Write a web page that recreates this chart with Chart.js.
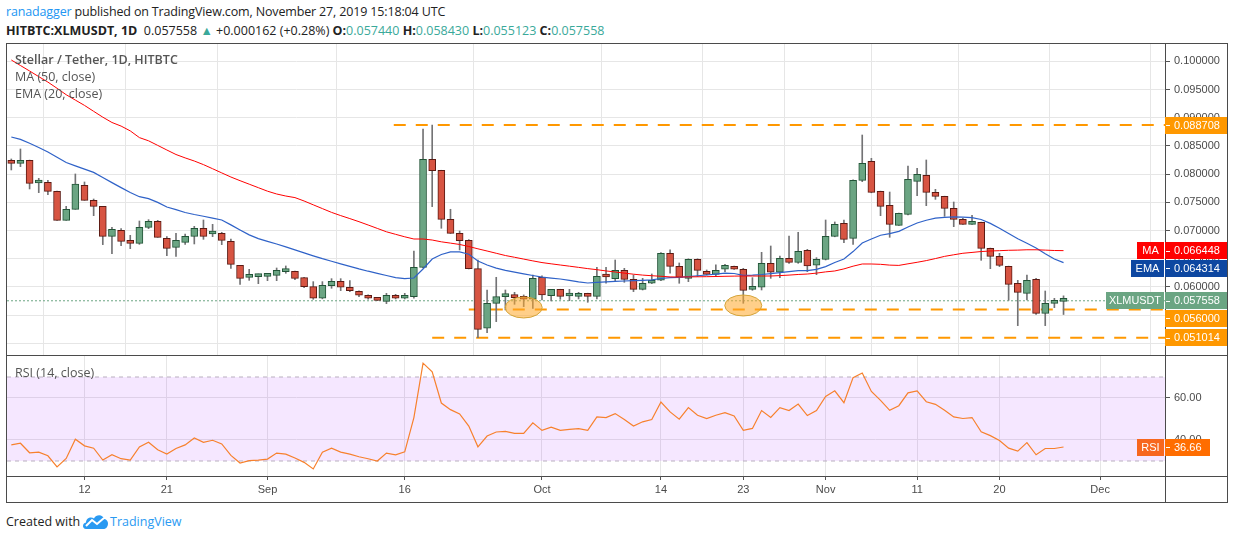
<!DOCTYPE html>
<html lang="en">
<head>
<meta charset="UTF-8">
<title>HITBTC:XLMUSDT, 1D</title>
<script src="https://cdn.jsdelivr.net/npm/chart.js"></script>
<style>
    body { margin: 0; width: 1234px; height: 540px; background: #fff; position: relative; overflow: hidden;
           font-family: 'Open Sans', 'Noto Sans', sans-serif; color: #222; }
    .abs { position: absolute; white-space: nowrap; }
    .line { position: absolute; background: #4b4b4b; }
    .teal { color: #3aa99a; }
    .lbl { font-size: 12.5px; color: #555; line-height: 16px; }
    canvas { position: absolute; }
</style>
</head>
<body>
    <!-- header -->
    <div class="abs" style="left:6px;top:4px;font-size:12.5px;line-height:16px;letter-spacing:-0.15px;"><span style="color:#2196f3">ranadagger</span> published on TradingView.com, November 27, 2019 15:18:04 UTC</div>
    <div class="abs" style="left:6px;top:23px;font-size:12.5px;line-height:16px;"><b>HITBTC:XLMUSDT, 1D</b>&nbsp; 0.057558 <span class="teal">&#9650;</span> +0.000162 (+0.28%) <b>O:</b><span class="teal">0.057440</span> <b>H:</b><span class="teal">0.058430</span> <b>L:</b><span class="teal">0.055123</span> <b>C:</b><span class="teal">0.057558</span></div>

    <!-- frame -->
    <div class="line" style="left:6px;top:43px;width:1222px;height:1px;"></div>
    <div class="line" style="left:6px;top:502px;width:1222px;height:1px;"></div>
    <div class="line" style="left:6px;top:43px;width:1px;height:460px;"></div>
    <div class="line" style="left:1227px;top:43px;width:1px;height:460px;"></div>
    <div class="line" style="left:6px;top:355px;width:1222px;height:1px;"></div>
    <div class="line" style="left:6px;top:476px;width:1222px;height:1px;"></div>
    <div class="line" style="left:1165px;top:43px;width:1px;height:460px;"></div>

    <canvas id="priceChart" width="1220" height="311" style="left:7px;top:44px;width:1220px;height:311px;"></canvas>
    <canvas id="rsiChart" width="1220" height="146" style="left:7px;top:356px;width:1220px;height:146px;"></canvas>

    <!-- pane legends -->
    <div class="abs lbl" style="left:15px;top:52px;font-weight:600;">Stellar / Tether, 1D, HITBTC</div>
    <div class="abs lbl" style="left:15px;top:69px;">MA (50, close)</div>
    <div class="abs lbl" style="left:15px;top:86px;">EMA (20, close)</div>
    <div class="abs lbl" style="left:15px;top:365px;">RSI (14, close)</div>

    <!-- footer -->
    <div class="abs" style="left:6px;top:514px;font-size:12.5px;line-height:16px;">Created with</div>
    <svg class="abs" style="left:82px;top:513px" width="27" height="17" viewBox="0 0 27 17">
        <path d="M4 16 C0 16 0 10 4 9.5 C4 5 9 3 12 5.5 C14 1 21 1 22 6 C26 6.5 27 11 25 14 C24 15.5 23 16 21 16 Z" fill="#2a9af2"/>
        <polyline points="4,13 10,7 15,11 22,5" fill="none" stroke="#fff" stroke-width="2"/>
    </svg>
    <div class="abs" style="left:110px;top:514px;font-size:12.5px;line-height:16px;color:#2a9af2;">TradingView</div>

<script>
// daily candles from 2019-08-04 (index 0) to 2019-11-27 (index 115)
const openP = [0.08228,0.08193,0.08246,0.07844,0.07856,0.07696,0.07182,0.07377,0.07803,0.07537,
    0.07430,0.06898,0.07005,0.06827,0.06774,0.07058,0.07164,0.06863,0.06703,0.06792,
    0.06898,0.07040,0.06940,0.06952,0.06810,0.06384,0.06171,0.06183,0.06189,0.06207,
    0.06272,0.06278,0.06166,0.06006,0.05800,0.06024,0.06101,0.05995,0.05924,0.05853,
    0.05806,0.05746,0.05853,0.05800,0.05829,0.06349,0.08264,0.08069,0.07200,0.06952,
    0.06828,0.06326,0.05268,0.05711,0.05829,0.05841,0.05811,0.05782,0.06172,0.05847,
    0.05959,0.05841,0.05835,0.05888,0.05835,0.06190,0.06148,0.06296,0.06136,0.05959,
    0.06066,0.06119,0.06597,0.06367,0.06154,0.06491,0.06278,0.06225,0.06314,0.06367,
    0.06314,0.05959,0.05995,0.06420,0.06261,0.06509,0.06438,0.06651,0.06385,0.06491,
    0.06898,0.07129,0.06863,0.07891,0.08228,0.07696,0.07448,0.07093,0.07289,0.07874,
    0.07980,0.07679,0.07608,0.07395,0.07200,0.07111,0.07147,0.06686,0.06544,0.06367,
    0.06065,0.05888,0.06136,0.05533,0.05711,0.057440];
const highP = [0.08270,0.08447,0.08250,0.07927,0.07891,0.07700,0.07430,0.08004,0.07862,0.07560,
    0.07430,0.07058,0.07034,0.06916,0.07170,0.07194,0.07182,0.06892,0.06952,0.06940,
    0.07076,0.07188,0.07111,0.06970,0.06851,0.06384,0.06313,0.06230,0.06237,0.06337,
    0.06373,0.06284,0.06170,0.06095,0.06095,0.06148,0.06148,0.06113,0.05930,0.05860,
    0.05810,0.05888,0.05870,0.05888,0.06639,0.08802,0.08871,0.08070,0.07378,0.06993,
    0.06840,0.06479,0.05947,0.06172,0.05947,0.05906,0.05859,0.06213,0.06196,0.05960,
    0.05960,0.05959,0.05906,0.05890,0.06349,0.06349,0.06479,0.06331,0.06213,0.06154,
    0.06231,0.06609,0.06657,0.06426,0.06500,0.06500,0.06302,0.06391,0.06402,0.06370,
    0.06331,0.06166,0.06615,0.06727,0.06550,0.06905,0.06970,0.06668,0.06520,0.07188,
    0.07153,0.07188,0.07900,0.08695,0.08281,0.07700,0.07684,0.07310,0.08145,0.08104,
    0.08252,0.07732,0.07610,0.07507,0.07218,0.07271,0.07150,0.06690,0.06597,0.06370,
    0.06118,0.06213,0.06154,0.05929,0.05799,0.058430];
const lowP = [0.08075,0.08134,0.07738,0.07673,0.07637,0.07182,0.07182,0.07377,0.07537,0.07265,
    0.06751,0.06591,0.06733,0.06680,0.06756,0.07034,0.06881,0.06556,0.06544,0.06756,
    0.06763,0.06845,0.06893,0.06751,0.06331,0.06047,0.06118,0.06059,0.06112,0.06112,
    0.06243,0.06130,0.05989,0.05782,0.05790,0.05977,0.05936,0.05918,0.05829,0.05782,
    0.05760,0.05705,0.05788,0.05788,0.05800,0.06340,0.07425,0.07041,0.06950,0.06657,
    0.06320,0.05102,0.05191,0.05386,0.05593,0.05693,0.05652,0.05622,0.05770,0.05752,
    0.05782,0.05758,0.05788,0.05729,0.05788,0.06066,0.06095,0.06083,0.05918,0.05947,
    0.06060,0.06110,0.06243,0.06066,0.06095,0.06184,0.06213,0.06184,0.06272,0.06310,
    0.05711,0.05941,0.05947,0.06154,0.06166,0.06420,0.06420,0.06272,0.06219,0.06479,
    0.06890,0.06786,0.06757,0.07868,0.07670,0.07265,0.06881,0.07090,0.07280,0.07619,
    0.07442,0.07554,0.07253,0.07070,0.07110,0.07110,0.06473,0.06325,0.06361,0.05764,
    0.05315,0.05770,0.05516,0.05315,0.05634,0.055123];
const closeP = [0.08193,0.08228,0.07838,0.07856,0.07696,0.07182,0.07377,0.07826,0.07537,0.07430,
    0.06898,0.07023,0.06810,0.06774,0.07058,0.07164,0.06881,0.06686,0.06827,0.06898,
    0.07040,0.06898,0.06952,0.06827,0.06402,0.06154,0.06189,0.06195,0.06213,0.06296,
    0.06284,0.06154,0.06006,0.05800,0.06030,0.06101,0.05995,0.05936,0.05853,0.05800,
    0.05764,0.05853,0.05800,0.05835,0.06349,0.08264,0.08063,0.07200,0.06952,0.06822,
    0.06326,0.05250,0.05711,0.05829,0.05876,0.05811,0.05782,0.06154,0.05859,0.05959,
    0.05835,0.05847,0.05871,0.05835,0.06190,0.06178,0.06296,0.06136,0.05959,0.06066,
    0.06119,0.06597,0.06367,0.06172,0.06491,0.06296,0.06225,0.06296,0.06385,0.06314,
    0.05941,0.05995,0.06420,0.06261,0.06509,0.06438,0.06633,0.06373,0.06491,0.06898,
    0.07111,0.06845,0.07891,0.08193,0.07679,0.07430,0.07111,0.07306,0.07909,0.07998,
    0.07679,0.07608,0.07395,0.07200,0.07111,0.07147,0.06686,0.06544,0.06384,0.06047,
    0.05906,0.06118,0.05533,0.05711,0.05728,0.057558];

// indicators
const ma50 = [0.10025,0.09927,0.09830,0.09730,0.09633,0.09523,0.09409,0.09314,0.09220,0.09115,
    0.09011,0.08917,0.08853,0.08768,0.08649,0.08592,0.08511,0.08429,0.08349,0.08289,
    0.08234,0.08170,0.08097,0.08023,0.07950,0.07885,0.07823,0.07761,0.07699,0.07649,
    0.07613,0.07585,0.07525,0.07457,0.07390,0.07323,0.07266,0.07213,0.07158,0.07099,
    0.07039,0.06979,0.06934,0.06890,0.06851,0.06851,0.06833,0.06801,0.06778,0.06754,
    0.06718,0.06677,0.06638,0.06598,0.06558,0.06527,0.06495,0.06463,0.06433,0.06411,
    0.06390,0.06369,0.06348,0.06326,0.06307,0.06285,0.06266,0.06246,0.06227,0.06211,
    0.06200,0.06190,0.06179,0.06177,0.06179,0.06181,0.06183,0.06186,0.06190,0.06193,
    0.06195,0.06195,0.06195,0.06195,0.06202,0.06211,0.06222,0.06230,0.06246,0.06268,
    0.06284,0.06321,0.06369,0.06408,0.06408,0.06402,0.06388,0.06383,0.06411,0.06438,
    0.06468,0.06504,0.06543,0.06571,0.06598,0.06613,0.06629,0.06638,0.06644,0.06651,
    0.06654,0.06660,0.06660,0.06654,0.06647,0.066448];
const ema20 = [0.08660,0.08617,0.08548,0.08472,0.08394,0.08300,0.08207,0.08147,0.08090,0.08032,
    0.07940,0.07851,0.07762,0.07674,0.07601,0.07566,0.07500,0.07418,0.07371,0.07321,
    0.07285,0.07254,0.07222,0.07188,0.07101,0.07012,0.06924,0.06858,0.06810,0.06762,
    0.06711,0.06658,0.06606,0.06553,0.06502,0.06457,0.06411,0.06367,0.06321,0.06280,
    0.06243,0.06204,0.06167,0.06149,0.06160,0.06319,0.06496,0.06576,0.06621,0.06621,
    0.06580,0.06460,0.06390,0.06335,0.06294,0.06264,0.06234,0.06204,0.06174,0.06158,
    0.06142,0.06117,0.06092,0.06071,0.06083,0.06092,0.06099,0.06106,0.06112,0.06119,
    0.06128,0.06151,0.06167,0.06172,0.06184,0.06199,0.06213,0.06229,0.06245,0.06239,
    0.06207,0.06211,0.06222,0.06238,0.06255,0.06273,0.06289,0.06289,0.06314,0.06362,
    0.06434,0.06496,0.06628,0.06780,0.06851,0.06918,0.06945,0.06986,0.07064,0.07135,
    0.07184,0.07222,0.07236,0.07245,0.07239,0.07229,0.07197,0.07128,0.07043,0.06950,
    0.06856,0.06775,0.06691,0.06589,0.06496,0.064314];
const rsi14 = [37.68,38.46,33.91,34.23,32.50,27.17,31.24,40.35,37.21,36.11,
    30.46,32.97,31.09,30.46,36.74,38.93,35.33,33.29,35.95,37.68,
    40.97,38.93,39.88,38.15,32.66,29.05,30.15,30.46,30.93,33.76,
    33.29,31.40,29.36,26.22,34.23,36.11,34.23,33.29,32.03,31.09,
    29.99,33.76,32.97,34.38,50.70,76.59,72.51,57.60,54.47,52.43,
    46.62,36.74,41.91,43.80,44.11,43.17,43.17,48.19,44.58,46.15,
    44.58,45.05,45.37,44.58,51.01,50.70,52.58,49.76,46.62,48.66,
    49.76,58.08,53.37,49.92,55.41,51.80,50.23,51.80,53.05,51.49,
    44.58,45.52,54.00,50.70,55.41,54.00,57.13,51.64,54.00,60.74,
    63.41,57.76,69.69,71.88,63.10,58.86,54.15,56.35,62.47,63.41,
    58.23,56.98,54.15,51.01,50.23,50.70,43.95,42.07,39.72,36.11,
    34.70,38.78,32.97,35.95,35.95,36.66];

// drawn levels (price, first day index) and highlighted zones (day index, price)
const levelPrices = [0.088708, 0.056000, 0.051014];
const levelStarts = [41.8, 50.0, 46.0];
const zoneDays = [56.0, 80.0];
const zonePrices = [0.05637, 0.05672];
const rsiBands = [70, 30];

// axis ticks
const tickDays = [8, 17, 28, 43, 58, 71, 80, 89, 99, 108, 119];
const tickLabels = ['12', '21', 'Sep', '16', 'Oct', '14', '23', 'Nov', '11', '20', 'Dec'];
const priceTicks = [0.050, 0.055, 0.060, 0.065, 0.070, 0.075, 0.080, 0.085, 0.090, 0.095, 0.100];
const rsiTicks = [40, 60];

const xMin = -0.47, xMax = 126.09;
const gridColor = '#e6e6e6';
const upColor = '#6ba583', downColor = '#d75442';
const upBorder = '#225437', downBorder = '#5b1a13';
const last = closeP.length - 1;

Chart.defaults.color = '#4a4a4a';
Chart.defaults.font.family = "'Liberation Sans', Arial, sans-serif";
Chart.defaults.font.size = 11;

const isUp = i => closeP[i] >= openP[i];
const flat = (y, from) => [{ x: from, y: y }, { x: xMax, y: y }];
// keep the plot area flush with the canvas edges
const noPad = s => { s.paddingTop = 0; s.paddingBottom = 0; s.paddingLeft = 0; s.paddingRight = 0; };

function drawTag(ctx, left, y, bg, text, valueW, name, nameBg, nameW) {
    ctx.save();
    ctx.font = "11px 'Liberation Sans', Arial, sans-serif";
    ctx.textBaseline = 'middle';
    ctx.fillStyle = bg;
    ctx.fillRect(left, Math.round(y - 8.5), valueW, 17);
    ctx.fillStyle = '#fff';
    ctx.fillRect(left + 1, Math.round(y), 4, 1);
    ctx.textAlign = 'left';
    ctx.fillText(text, left + 9, y + 0.5);
    if (name) {
        ctx.fillStyle = nameBg || bg;
        ctx.fillRect(left - 1 - nameW, Math.round(y - 8.5), nameW, 17);
        ctx.fillStyle = '#fff';
        ctx.textAlign = 'center';
        ctx.fillText(name, left - 1 - nameW / 2, y + 0.5, nameW - 6);
    }
    ctx.restore();
}

// price labels on the right axis, pushed apart like TradingView does
const priceTags = {
    id: 'priceTags',
    afterDraw(chart) {
        const y = chart.scales.y, area = chart.chartArea, ctx = chart.ctx;
        const tags = [
            { v: levelPrices[0], bg: '#ff9800' },
            { v: ma50[last], bg: '#ff0000', name: 'MA', w: 27 },
            { v: ema20[last], bg: '#0d47a1', name: 'EMA', w: 33 },
            { v: closeP[last], bg: '#6ba583', name: 'XLMUSDT', w: 58 },
            { v: levelPrices[1], bg: '#ff9800' },
            { v: levelPrices[2], bg: '#ff9800' }
        ];
        tags.forEach(t => t.py = y.getPixelForValue(t.v));
        tags.sort((a, b) => a.py - b.py);
        for (let k = 1; k < tags.length; k++) {
            if (tags[k].py < tags[k - 1].py + 17.5) tags[k].py = tags[k - 1].py + 17.5;
        }
        tags.forEach(t => drawTag(ctx, area.right, t.py, t.bg, t.v.toFixed(6), 62, t.name, t.bg, t.w));
    }
};

// orange ellipses marking the support tests
const zones = {
    id: 'zones',
    afterDatasetsDraw(chart) {
        const ctx = chart.ctx, x = chart.scales.x, y = chart.scales.y;
        ctx.save();
        zoneDays.forEach((d, k) => {
            ctx.beginPath();
            ctx.ellipse(x.getPixelForValue(d), y.getPixelForValue(zonePrices[k]), 18.5, 10.5, 0, 0, Math.PI * 2);
            ctx.fillStyle = 'rgba(255, 168, 40, 0.55)';
            ctx.fill();
            ctx.strokeStyle = '#d4a43a';
            ctx.lineWidth = 1;
            ctx.stroke();
        });
        ctx.restore();
    }
};

const rsiTag = {
    id: 'rsiTag',
    afterDraw(chart) {
        const py = chart.scales.y.getPixelForValue(rsi14[last]);
        drawTag(chart.ctx, chart.chartArea.right, py, '#ff6d00', rsi14[last].toFixed(2), 45, 'RSI', '#f7671e', 27);
    }
};

new Chart(document.getElementById('priceChart'), {
    type: 'bar',
    data: {
        datasets: [
            {
                type: 'line', data: ma50.map((v, i) => ({ x: i, y: v })),
                borderColor: '#ff0000', borderWidth: 1, pointRadius: 0, order: 0
            },
            {
                type: 'line', data: ema20.map((v, i) => ({ x: i, y: v })),
                borderColor: '#2f62c8', borderWidth: 1.2, pointRadius: 0, order: 0
            },
            {
                data: openP.map((o, i) => ({ x: i, y: [o, closeP[i]] })),
                backgroundColor: c => isUp(c.dataIndex) ? upColor : downColor,
                borderColor: c => isUp(c.dataIndex) ? upBorder : downBorder,
                borderWidth: 1, borderSkipped: false, barThickness: 7, minBarLength: 3,
                grouped: false, order: 2
            },
            {
                data: lowP.map((l, i) => ({ x: i, y: [l, highP[i]] })),
                backgroundColor: '#737375', barThickness: 1, grouped: false, order: 3
            },
            ...levelPrices.map((p, k) => ({
                type: 'line', data: flat(p, levelStarts[k]),
                borderColor: '#ff9800', borderWidth: 2, borderDash: [12, 10], pointRadius: 0, order: 4
            })),
            {
                type: 'line', data: flat(closeP[last], xMin),
                borderColor: '#6ba583', borderWidth: 1, borderDash: [2, 2], pointRadius: 0, order: 5
            }
        ]
    },
    options: {
        responsive: false, animation: false,
        layout: { padding: 0 },
        plugins: { legend: { display: false }, tooltip: { enabled: false } },
        scales: {
            x: {
                type: 'linear', min: xMin, max: xMax, offset: false,
                grid: { color: gridColor, drawTicks: false }, border: { display: false },
                ticks: { display: false },
                afterBuildTicks: s => { s.ticks = tickDays.map(v => ({ value: v })); },
                afterFit: s => { s.height = 0; noPad(s); }
            },
            y: {
                position: 'right', min: 0.047943, max: 0.103085,
                grid: { color: gridColor, tickLength: 5, tickColor: '#555' }, border: { display: false },
                ticks: { padding: 4, callback: v => v.toFixed(6) },
                afterBuildTicks: s => { s.ticks = priceTicks.map(v => ({ value: v })); },
                afterFit: s => { s.width = 62; noPad(s); }
            }
        }
    },
    plugins: [zones, priceTags]
});

new Chart(document.getElementById('rsiChart'), {
    type: 'line',
    data: {
        datasets: [
            {
                data: rsi14.map((v, i) => ({ x: i, y: v })),
                borderColor: '#f7812d', borderWidth: 1.2, pointRadius: 0, order: 0
            },
            {
                data: flat(rsiBands[0], xMin), borderColor: '#b9b0c0', borderWidth: 1,
                borderDash: [4, 4], pointRadius: 0, fill: false, order: 1
            },
            {
                data: flat(rsiBands[1], xMin), borderColor: '#b9b0c0', borderWidth: 1,
                borderDash: [4, 4], pointRadius: 0, fill: '-1',
                backgroundColor: 'rgba(153, 21, 255, 0.1)', order: 2
            }
        ]
    },
    options: {
        responsive: false, animation: false,
        layout: { padding: 0 },
        plugins: { legend: { display: false }, tooltip: { enabled: false } },
        scales: {
            x: {
                type: 'linear', min: xMin, max: xMax, offset: false,
                grid: { color: gridColor, tickLength: 4, tickColor: '#555' }, border: { display: false },
                ticks: { padding: 3, maxRotation: 0, autoSkip: false,
                         callback: v => tickLabels[tickDays.indexOf(v)] },
                afterBuildTicks: s => { s.ticks = tickDays.map(v => ({ value: v })); },
                afterFit: s => { s.height = 26; noPad(s); }
            },
            y: {
                position: 'right', min: 22.857, max: 80,
                grid: { color: gridColor, tickLength: 5, tickColor: '#555' }, border: { display: false },
                ticks: { padding: 4, callback: v => v.toFixed(2) },
                afterBuildTicks: s => { s.ticks = rsiTicks.map(v => ({ value: v })); },
                afterFit: s => { s.width = 62; noPad(s); }
            }
        }
    },
    plugins: [rsiTag]
});
</script>
</body>
</html>
